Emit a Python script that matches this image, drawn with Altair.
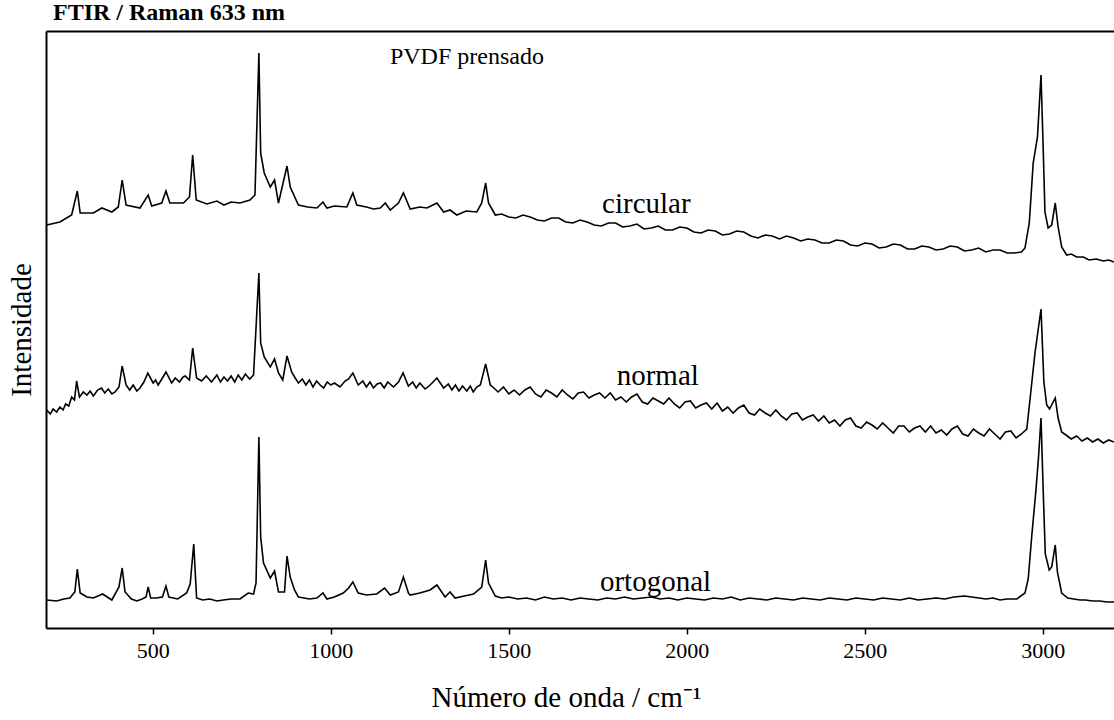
import altair as alt
import pandas as pd

# ---------------- data (wavenumber, intensity a.u.) ----------------
circ_wn = [202, 239, 272, 288, 296, 333, 357, 385, 403, 414, 425, 464, 487, 497, 525, 537, 548, 586,
           603, 612, 622, 652, 680, 700, 720, 745, 773, 787, 798, 803, 813, 830, 842, 853, 877, 886,
           909, 935, 961, 978, 989, 1010, 1045, 1062, 1073, 1100, 1120, 1139, 1153, 1167, 1190, 1204,
           1223, 1250, 1270, 1298, 1317, 1335, 1354, 1380, 1410, 1424, 1435, 1443, 1462,
           1480, 1500, 1520, 1540, 1560, 1580, 1600, 1620, 1640, 1660, 1680, 1700, 1720, 1740, 1760,
           1780, 1800, 1820, 1840, 1860, 1880, 1900, 1920, 1940, 1960, 1980, 2000, 2020, 2040, 2060,
           2080, 2100, 2120, 2140, 2160, 2180, 2200, 2220, 2240, 2260, 2280, 2300, 2320, 2340, 2360,
           2380, 2400, 2420, 2440, 2460, 2480, 2500, 2520, 2540, 2560, 2580, 2600, 2620, 2640, 2660,
           2680, 2700, 2720, 2740, 2760, 2780, 2800, 2820, 2840, 2860, 2880, 2900, 2920, 2940,
           2950, 2962, 2973, 2985, 2995, 3001, 3006,
           3015, 3025, 3035, 3043, 3053, 3067, 3080, 3095, 3114, 3130, 3150, 3170, 3185, 3200]
circ_int = [403, 406, 413, 437, 415, 415, 420, 416, 421, 448, 423, 420, 433, 422, 425, 437, 425, 425,
            431, 473, 428, 424, 427, 423, 426, 425, 428, 433, 575, 475, 455, 441, 448, 425, 462, 441,
            423, 421, 420, 426, 420, 422, 421, 435, 423, 421, 419, 420, 425, 418, 425, 435,
            419, 421, 420, 425, 416, 418, 413, 417, 416, 425, 445, 425, 413,
            414, 411, 410, 413, 411, 408, 407, 410, 410, 406, 405, 408, 406, 403, 402,
            405, 405, 401, 402, 404, 399, 400, 402, 398, 398, 401, 400, 396, 395, 398,
            397, 393, 394, 397, 396, 392, 390, 393, 392, 389, 392, 390, 387, 389, 388,
            385, 385, 388, 387, 383, 382, 385, 384, 380, 381, 384, 383, 379, 379, 382,
            381, 378, 379, 382, 381, 377, 378, 380, 376, 378, 378, 375, 375, 376,
            380, 405, 465, 491, 553, 481, 416,
            400, 403, 425, 401, 381, 373, 374, 371, 371, 368, 369, 367, 368, 366]

norm_wn = [202, 212, 220, 230, 239, 248, 255, 264, 272, 280, 286, 294, 305, 315, 324, 333, 345, 356,
           365, 375, 385, 394, 405, 414, 425, 435, 445, 455, 464, 475, 486, 501, 508,
           515, 527, 537, 553, 563, 575, 585, 591, 603, 612, 623, 637, 650, 665, 680, 690, 700, 710,
           720, 730, 740, 750, 760, 772, 783, 798, 803, 813,
           830, 842, 853, 865, 877, 890, 900, 909, 920, 930, 940, 950, 960, 970, 980, 990, 1000, 1010,
           1026, 1040, 1050, 1062, 1077, 1090, 1100, 1110, 1120, 1130, 1140, 1150, 1160, 1176, 1190,
           1203, 1218, 1230, 1240, 1250, 1265, 1279, 1290, 1298, 1317, 1330, 1340, 1350, 1360, 1370,
           1382, 1392, 1400, 1410, 1420, 1435, 1448,
           1455, 1470, 1485, 1500, 1515, 1530, 1545, 1560, 1575, 1590, 1605, 1620, 1635, 1650, 1665,
           1680, 1695, 1710, 1725, 1740, 1755, 1770, 1785, 1800, 1815, 1830, 1845, 1860, 1875, 1890,
           1905, 1920, 1935, 1950, 1965, 1980, 1995, 2010, 2025, 2040, 2055, 2070, 2085, 2100, 2115,
           2130, 2145, 2160, 2175, 2190, 2205, 2220, 2235, 2250, 2265, 2280, 2295, 2310, 2325, 2340,
           2355, 2370, 2385, 2400, 2415, 2430, 2445, 2460, 2475, 2490, 2505, 2520, 2535, 2550, 2565,
           2580, 2595, 2610, 2625, 2640, 2655, 2670, 2685, 2700, 2715, 2730, 2745, 2760, 2775, 2790,
           2805, 2820, 2835, 2850, 2865, 2880, 2895, 2910, 2925, 2940,
           2955, 2966, 2978, 2995, 3003, 3011, 3019, 3035, 3043, 3053,
           3065, 3080, 3095, 3110, 3125, 3140, 3155, 3170, 3185, 3200]
norm_int = [218, 214, 219, 216, 221, 218, 224, 222, 231, 228, 247, 231, 236, 233, 237, 232, 238, 240,
            235, 239, 234, 236, 241, 262, 243, 238, 243, 237, 240, 246, 255, 245, 248,
            243, 250, 256, 245, 250, 246, 251, 252, 248, 280, 250, 247, 252, 246, 253, 246, 251, 247,
            252, 246, 253, 248, 254, 249, 253, 355, 285, 271,
            261, 269, 255, 248, 272, 256, 250, 245, 249, 243, 248, 241, 247, 243, 240, 246, 243, 245,
            241, 247, 249, 255, 243, 247, 241, 246, 240, 244, 245, 240, 246, 241, 246,
            255, 242, 246, 240, 245, 239, 243, 247, 250, 240, 244, 238, 243, 237, 242,
            237, 242, 236, 241, 243, 264, 243,
            241, 236, 241, 234, 238, 233, 238, 241, 234, 231, 238, 235, 231, 238, 233,
            229, 235, 236, 230, 233, 235, 230, 235, 228, 231, 226, 231, 234, 226, 224,
            230, 227, 224, 230, 224, 220, 226, 227, 220, 223, 225, 219, 225, 217, 221,
            215, 220, 223, 215, 213, 219, 215, 212, 218, 212, 208, 214, 215, 208, 211,
            213, 207, 212, 205, 208, 202, 208, 210, 202, 200, 206, 203, 199, 205, 200,
            195, 202, 202, 196, 200, 202, 196, 202, 195, 198, 193, 199, 202, 194, 192,
            199, 195, 192, 199, 194, 189, 196, 197, 190, 194,
            199, 235, 275, 319, 246, 223, 219, 230, 210, 196,
            193, 189, 192, 187, 190, 186, 189, 185, 188, 186]

orto_wn = [202, 230, 250, 267, 281, 288, 296, 315, 333, 359, 385, 405, 414, 422, 440, 455, 470, 481,
           487, 494, 510, 527, 537, 545, 570, 595, 605, 615, 623, 640, 660, 680, 698, 720, 745, 768,
           783, 790, 798, 803, 811, 830, 842, 853, 870, 877, 886, 898, 909, 925, 940, 961, 978, 989,
           1010, 1035, 1050, 1062, 1077, 1100, 1129, 1151, 1167, 1190, 1204, 1218,
           1223, 1250, 1279, 1298, 1321, 1335, 1349, 1375, 1401, 1424, 1435, 1443, 1462,
           1480, 1500, 1525, 1550, 1575, 1600, 1625, 1650, 1675, 1700, 1725, 1750, 1775, 1800, 1825,
           1850, 1875, 1900, 1925, 1950, 1975, 2000, 2025, 2050, 2075, 2100, 2125, 2150, 2175, 2200,
           2225, 2250, 2275, 2300, 2325, 2350, 2375, 2400, 2425, 2450, 2475, 2500, 2525, 2550, 2575,
           2600, 2625, 2650, 2675, 2700, 2725, 2750, 2780, 2800, 2820, 2840, 2860, 2880, 2900,
           2927, 2950, 2959, 2969, 2981, 2988, 2995, 3001, 3007, 3018, 3025, 3035, 3041, 3053, 3070,
           3087, 3105, 3120, 3140, 3160, 3180, 3200]
orto_int = [28, 27, 29, 30, 36, 59, 35, 31, 30, 34, 28, 41, 60, 36, 29, 27, 29, 31,
            41, 30, 30, 31, 42, 31, 29, 35, 44, 84, 30, 28, 29, 27, 28, 29, 29, 35,
            34, 45, 191, 91, 65, 50, 57, 36, 36, 72, 51, 38, 31, 30, 29, 30, 35, 29,
            31, 35, 40, 46, 35, 33, 34, 40, 33, 36, 51, 35,
            33, 35, 38, 43, 31, 36, 30, 32, 34, 41, 68, 45, 32,
            30, 31, 29, 30, 28, 31, 29, 30, 28, 30, 29, 28, 30, 29, 31,
            29, 30, 31, 29, 30, 28, 30, 29, 28, 30, 29, 31, 28, 30, 29,
            28, 30, 29, 28, 30, 29, 28, 30, 29, 28, 30, 29, 28, 30, 29,
            28, 30, 28, 29, 30, 29, 31, 32, 31, 30, 29, 30, 28, 29,
            29, 35, 49, 92, 139, 171, 210, 139, 74, 58, 61, 83, 56, 35, 30,
            29, 28, 28, 27, 27, 26, 26]

label_text = ["circular", "normal", "ortogonal"]
label_wn = [1762, 1803, 1756]
label_int = [415, 243, 37]

note_text = ["PVDF prensado"]
note_wn = [1166]
note_int = [564]

# ---------------- build tables ----------------
rows = []
for name, xs, ys in [("circular", circ_wn, circ_int), ("normal", norm_wn, norm_int),
                     ("ortogonal", orto_wn, orto_int)]:
    for x, y in zip(xs, ys):
        rows.append({"wn": x, "I": y, "serie": name})
spec = pd.DataFrame(rows)
labels = pd.DataFrame({"wn": label_wn, "I": label_int, "txt": label_text})
note = pd.DataFrame({"wn": note_wn, "I": note_int, "txt": note_text})

FONT = "Liberation Serif"
xscale = alt.Scale(domain=[200, 3200], nice=False, zero=False)
yscale = alt.Scale(domain=[0, 597], nice=False, zero=False)

yaxis = alt.Axis(title="Intensidade", labels=False, ticks=False, grid=False, domain=True,
                 domainColor="black", domainWidth=2, titleFont=FONT, titleFontSize=29,
                 titleFontWeight="normal", titleColor="black", titlePadding=10)

lines = alt.Chart(spec).mark_line(color="black", strokeWidth=1.6).encode(
    x=alt.X("wn:Q", scale=xscale,
            axis=alt.Axis(title="Número de onda / cm⁻¹", values=[500, 1000, 1500, 2000, 2500, 3000],
                          format="d", grid=False, domainColor="black", domainWidth=2,
                          tickColor="black", tickWidth=1.5, tickSize=6, labelFont=FONT,
                          labelFontSize=22, labelColor="black", labelPadding=6, titleFont=FONT,
                          titleFontSize=29, titleFontWeight="normal", titleColor="black",
                          titlePadding=22, titleX=520, labelFlush=False)),
    y=alt.Y("I:Q", scale=yscale, axis=yaxis),
    detail="serie:N",
    order="wn:Q",
)

lab = alt.Chart(labels).mark_text(font=FONT, fontSize=29, color="black", align="left",
                                   baseline="alphabetic").encode(
    x=alt.X("wn:Q", scale=xscale,
            axis=alt.Axis(orient="top", labels=False, ticks=False, grid=False, title=None,
                          domainColor="black", domainWidth=2)),
    y=alt.Y("I:Q", scale=yscale, axis=yaxis),
    text="txt:N",
)

nt = alt.Chart(note).mark_text(font=FONT, fontSize=24, color="black", align="left",
                               baseline="alphabetic").encode(
    x=alt.X("wn:Q", scale=xscale, axis=None),
    y=alt.Y("I:Q", scale=yscale, axis=yaxis),
    text="txt:N",
)

chart = alt.layer(lines, lab, nt).resolve_axis(x="independent").properties(
    width=1068, height=597,
    padding={"left": 46, "top": 31, "right": 0, "bottom": 92},
    autosize=alt.AutoSizeParams(type="none"),
    title=alt.TitleParams("FTIR / Raman 633 nm", anchor="start", font=FONT, fontSize=24,
                          fontWeight="bold", color="black", offset=6, dx=7, frame="group"),
).configure_view(stroke=None).configure(background="white", font=FONT).configure_text(font=FONT)

chart.save("out.html", embed_options={"renderer": "svg", "actions": False})
